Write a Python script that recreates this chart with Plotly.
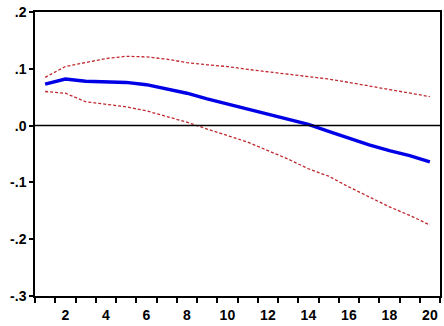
import plotly.graph_objects as go

periods = list(range(1, 21))
response = [0.073, 0.082, 0.078, 0.077, 0.076, 0.072, 0.065, 0.057, 0.047, 0.038,
            0.028, 0.019, 0.0105, 0.002, -0.010, -0.022, -0.034, -0.044, -0.053, -0.064]
upper = [0.085, 0.104, 0.111, 0.118, 0.122, 0.121, 0.117, 0.111, 0.107, 0.104,
         0.099, 0.095, 0.091, 0.086, 0.082, 0.076, 0.070, 0.063, 0.057, 0.051]
lower = [0.060, 0.057, 0.042, 0.037, 0.033, 0.026, 0.016, 0.006, -0.006, -0.018,
         -0.029, -0.044, -0.059, -0.076, -0.089, -0.108, -0.126, -0.143, -0.158, -0.175]

x_tickvals = [2, 4, 6, 8, 10, 12, 14, 16, 18, 20]
x_ticktext = ["2", "4", "6", "8", "10", "12", "14", "16", "18", "20"]
x_boundaries = [i + 0.5 for i in range(0, 21)]
y_tickvals = [0.2, 0.1, 0.0, -0.1, -0.2, -0.3]
y_ticktext = [".2", ".1", ".0", "-.1", "-.2", "-.3"]

fig = go.Figure()
fig.add_trace(go.Scatter(x=periods, y=upper, mode="lines",
                         line=dict(color="#C0282E", width=1.3, dash="3px,2px")))
fig.add_trace(go.Scatter(x=periods, y=lower, mode="lines",
                         line=dict(color="#C0282E", width=1.3, dash="3px,2px")))
fig.add_trace(go.Scatter(x=periods, y=response, mode="lines",
                         line=dict(color="#0000E6", width=3.4)))

fig.add_hline(y=0, line=dict(color="black", width=1.5))

tickfont = dict(family="Liberation Sans, Arial, sans-serif", size=14, color="black", weight="bold")

fig.update_layout(
    width=444, height=326,
    margin=dict(l=35, r=4, t=12, b=30),
    paper_bgcolor="white", plot_bgcolor="white",
    showlegend=False,
    xaxis=dict(range=[0.5, 20.5], tickmode="array", tickvals=x_tickvals, ticktext=x_ticktext,
               ticks="", showgrid=False, zeroline=False, showline=True, linecolor="black",
               linewidth=1.5, mirror=True, tickfont=tickfont, ticklabelstandoff=5,
               ticklabeloverflow="allow", automargin=False,
               minor=dict(tickmode="array", tickvals=x_boundaries, ticks="outside", ticklen=5,
                          tickcolor="black", tickwidth=1.5, showgrid=False)),
    yaxis=dict(range=[-0.3, 0.2], tickmode="array", tickvals=y_tickvals, ticktext=y_ticktext,
               ticks="outside", ticklen=4, tickcolor="black", tickwidth=1.5,
               showgrid=False, zeroline=False, showline=True, linecolor="black",
               linewidth=1.5, mirror=True, tickfont=tickfont, ticklabeloverflow="allow",
               automargin=False),
)

# remove the browser's default 8px body margin so the figure sits at the window's corner
fig.write_html("out.html", config={"displayModeBar": False},
               post_script="document.body.style.margin='0';")
